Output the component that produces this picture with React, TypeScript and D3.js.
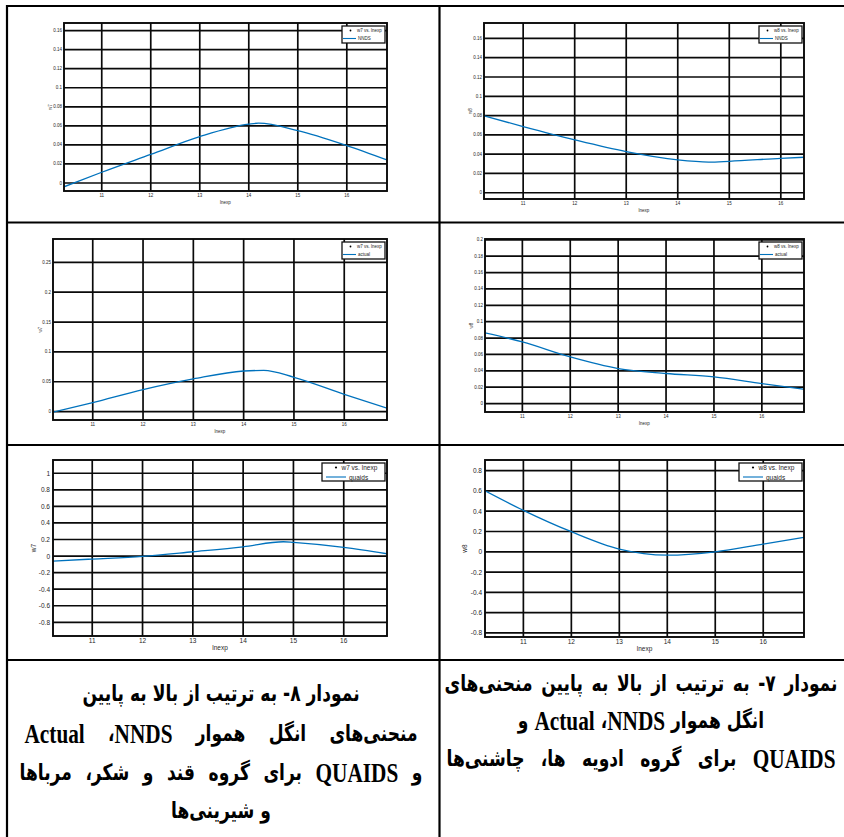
import React, { useEffect, useRef } from 'react';
import * as d3 from 'd3';

// shared x ticks (lnexp)
const xTickValues = [11, 12, 13, 14, 15, 16];

// w7 — NNDS
const lnexpW7Nnds = [10.23, 11, 12, 13, 14, 14.2, 15, 16, 16.82];
const w7Nnds = [-0.004, 0.0113, 0.03, 0.0487, 0.0618, 0.0628, 0.055, 0.0393, 0.0242];
const w7NndsTicks = [0, 0.02, 0.04, 0.06, 0.08, 0.1, 0.12, 0.14, 0.16];

// w8 — NNDS
const lnexpW8Nnds = [10.24, 11, 12, 13, 14, 14.6, 15, 16, 16.45];
const w8Nnds = [0.0797, 0.0686, 0.0548, 0.0426, 0.034, 0.0318, 0.0326, 0.0357, 0.0368];
const w8NndsTicks = [0, 0.02, 0.04, 0.06, 0.08, 0.1, 0.12, 0.14, 0.16];

// w7 — actual
const lnexpW7Actual = [10.21, 11, 12, 13, 14, 14.4, 15, 16, 16.85];
const w7Actual = [-0.001, 0.015, 0.0368, 0.0547, 0.068, 0.069, 0.0575, 0.029, 0.0057];
const w7ActualTicks = [0, 0.05, 0.1, 0.15, 0.2, 0.25];

// w8 — actual
const lnexpW8Actual = [10.22, 11, 12, 13, 14, 15, 16, 16.88];
const w8Actual = [0.0863, 0.0753, 0.057, 0.0428, 0.0367, 0.0325, 0.0244, 0.0175];
const w8ActualTicks = [0, 0.02, 0.04, 0.06, 0.08, 0.1, 0.12, 0.14, 0.16, 0.18, 0.2];

// w7 — quaids
const lnexpW7Quaids = [10.22, 11, 12, 13, 14, 14.8, 15, 16, 16.86];
const w7Quaids = [-0.06, -0.036, -0.004, 0.052, 0.112, 0.173, 0.165, 0.105, 0.028];
const w7QuaidsTicks = [-0.8, -0.6, -0.4, -0.2, 0, 0.2, 0.4, 0.6, 0.8, 1];

// w8 — quaids
const lnexpW8Quaids = [10.2, 11, 12, 13, 14, 15, 16, 16.85];
const w8Quaids = [0.602, 0.409, 0.198, 0.027, -0.033, 0.0, 0.076, 0.142];
const w8QuaidsTicks = [-0.8, -0.6, -0.4, -0.2, 0, 0.2, 0.4, 0.6, 0.8];

// captions (one entry per printed line)
const leftCaption = [
  'نمودار ۸- به ترتیب از بالا به پایین',
  'منحنی‌های انگل هموار NNDS\u200F، Actual',
  'و QUAIDS برای گروه قند و شکر، مرباها',
  'و شیرینی‌ها',
];
const rightCaption = [
  'نمودار ۷- به ترتیب از بالا به پایین منحنی‌های',
  'انگل هموار NNDS\u200F، Actual و',
  'QUAIDS برای گروه ادویه ها، چاشنی‌ها',
];

const BLUE = '#0072BD';
const fmt = (v: number) => String(+v.toFixed(2));
const SX = 0.76; // caption glyphs are narrower than DejaVu, squeeze horizontally

const charts = [
  { id: 'c1', box: [64, 23, 387, 191], xDomain: [10.23, 16.82], yDomain: [-0.0084, 0.168], xs: lnexpW7Nnds, ys: w7Nnds, yTicks: w7NndsTicks, yLabel: 'w7', series: 'NNDS', big: false, yl: 14 },
  { id: 'c2', box: [484, 23, 804, 199], xDomain: [10.24, 16.45], yDomain: [-0.0065, 0.176], xs: lnexpW8Nnds, ys: w8Nnds, yTicks: w8NndsTicks, yLabel: 'w8', series: 'NNDS', big: false, yl: 14 },
  { id: 'c3', box: [53, 239, 387, 420], xDomain: [10.21, 16.85], yDomain: [-0.014, 0.289], xs: lnexpW7Actual, ys: w7Actual, yTicks: w7ActualTicks, yLabel: 'w7', series: 'actual', big: false, yl: 13 },
  { id: 'c4', box: [485, 239, 804, 412], xDomain: [10.22, 16.88], yDomain: [-0.0103, 0.201], xs: lnexpW8Actual, ys: w8Actual, yTicks: w8ActualTicks, yLabel: 'w8', series: 'actual', big: false, yl: 14 },
  { id: 'c5', box: [53, 460, 387, 636], xDomain: [10.22, 16.86], yDomain: [-0.965, 1.16], xs: lnexpW7Quaids, ys: w7Quaids, yTicks: w7QuaidsTicks, yLabel: 'w7', series: 'quaids', big: true, yl: 20 },
  { id: 'c6', box: [485, 460, 804, 637], xDomain: [10.2, 16.85], yDomain: [-0.84, 0.905], xs: lnexpW8Quaids, ys: w8Quaids, yTicks: w8QuaidsTicks, yLabel: 'w8', series: 'quaids', big: true, yl: 21 },
];

function Chart({ spec }: { spec: any }) {
  const [x0, y0, x1, y1] = spec.box;
  const x = d3.scaleLinear().domain(spec.xDomain).range([x0, x1]);
  const y = d3.scaleLinear().domain(spec.yDomain).range([y1, y0]);
  const line = d3.line<number>()
    .x((_, i) => x(spec.xs[i]))
    .y(d => y(d))
    .curve(d3.curveMonotoneX);
  const f = spec.big ? 6.5 : 4.5;
  const lg = spec.big
    ? { w: 63, h: 18, dot: 14, t1: 19.5, l0: 4, l1: 24, t2: 27, r1: 4.5, r2: 14 }
    : { w: 43, h: 17, dot: 8.5, t1: 15, l0: 1, l1: 14, t2: 16, r1: 4.5, r2: 12.5 };
  const lx = x1 - lg.w - 2;
  const ly = y0 + 3;
  const font = "'Liberation Sans', Arial, sans-serif";
  return (
    <g fontFamily={font} fill="#262626">
      <defs>
        <clipPath id={`clip-${spec.id}`}>
          <rect x={x0} y={y0} width={x1 - x0} height={y1 - y0} />
        </clipPath>
      </defs>
      <rect x={x0} y={y0} width={x1 - x0} height={y1 - y0} fill="#fff" />
      {xTickValues.map(t => (
        <line key={`gx${t}`} x1={x(t)} x2={x(t)} y1={y0} y2={y1} stroke="#0a0a0a" strokeWidth={1.7} />
      ))}
      {spec.yTicks.map((t: number) => (
        <line key={`gy${t}`} x1={x0} x2={x1} y1={y(t)} y2={y(t)} stroke="#0a0a0a" strokeWidth={1.7} />
      ))}
      <path d={line(spec.ys) || ''} fill="none" stroke={BLUE} strokeWidth={1.3} clipPath={`url(#clip-${spec.id})`} />
      <rect x={x0} y={y0} width={x1 - x0} height={y1 - y0} fill="none" stroke="#0a0a0a" strokeWidth={1.9} />
      {xTickValues.map(t => (
        <text key={`tx${t}`} x={x(t)} y={y1 + 4} fontSize={f} textAnchor="middle" dominantBaseline="central">{t}</text>
      ))}
      {spec.yTicks.map((t: number) => (
        <text key={`ty${t}`} x={x0 - (spec.big ? 3 : 2)} y={y(t)} fontSize={f} textAnchor="end" dominantBaseline="central">{fmt(t)}</text>
      ))}
      <text x={(x0 + x1) / 2} y={y1 + 11} fontSize={f} textAnchor="middle" dominantBaseline="central">lnexp</text>
      <text transform={`translate(${x0 - spec.yl},${(y0 + y1) / 2}) rotate(-90)`} fontSize={f} textAnchor="middle" dominantBaseline="central">{spec.yLabel}</text>
      <g transform={`translate(${lx},${ly})`}>
        <rect width={lg.w} height={lg.h} fill="#fff" stroke="#111" strokeWidth={1.3} />
        <circle cx={lg.dot} cy={lg.r1} r={spec.big ? 1.1 : 0.9} fill="#000" />
        <text x={lg.t1} y={lg.r1} fontSize={f} dominantBaseline="central">{`${spec.yLabel} vs. lnexp`}</text>
        <line x1={lg.l0} x2={lg.l1} y1={lg.r2} y2={lg.r2} stroke={BLUE} strokeWidth={1.1} />
        <text x={lg.t2} y={lg.r2} fontSize={f} dominantBaseline="central">{spec.series}</text>
      </g>
    </g>
  );
}

// Persian runs in DejaVu Sans, latin words in a Times-like serif
function CaptionLine({ text, x, y, width }: { text: string; x: number; y: number; width: number }) {
  const parts = text.split(/([A-Za-z]+)/).filter(p => p !== '');
  return (
    <text transform={`translate(${x},${y}) scale(${SX},1)`} direction="rtl" textAnchor="middle" dominantBaseline="central" data-width={width / SX}>
      {parts.map((p, i) =>
        /^[A-Za-z]+$/.test(p)
          ? <tspan key={i} fontFamily="'Liberation Serif', 'Times New Roman', serif" fontSize={28}>{p}</tspan>
          : <tspan key={i}>{p}</tspan>
      )}
    </text>
  );
}

export default function App() {
  const capRef = useRef<SVGGElement>(null);

  useEffect(() => {
    // justified lines: stretch by word spacing
    d3.select(capRef.current).selectAll<SVGTextElement, unknown>('text').each(function () {
      const target = +(this.getAttribute('data-width') || 0);
      if (!target) return;
      this.setAttribute('word-spacing', '0');
      const w = this.getComputedTextLength();
      const gaps = ((this.textContent || '').match(/ /g) || []).length;
      if (gaps) this.setAttribute('word-spacing', String((target - w) / gaps));
    });
  }, []);

  const leftY = [693, 733, 772, 810];
  const leftW = [0, 393, 403, 0];
  const rightY = [683, 720, 758];
  const rightW = [393, 0, 389];

  return (
    <svg width={844} height={837} style={{ position: 'absolute', left: 0, top: 0, background: '#fff' }}>
      <rect width={844} height={837} fill="#fff" />
      {charts.map(c => <Chart key={c.id} spec={c} />)}
      {/* table borders */}
      <g stroke="#000" strokeWidth={2.2}>
        <line x1={6} x2={844} y1={6} y2={6} />
        <line x1={6} x2={844} y1={222.5} y2={222.5} />
        <line x1={6} x2={844} y1={445} y2={445} />
        <line x1={6} x2={844} y1={660} y2={660} />
        <line x1={7} x2={7} y1={5} y2={837} />
        <line x1={439.5} x2={439.5} y1={5} y2={837} />
      </g>
      <g ref={capRef} fontFamily="'DejaVu Sans', sans-serif" fontWeight="bold" fontSize={22.5} fill="#000">
        {leftCaption.map((s, i) => (
          <CaptionLine key={`l${i}`} text={s} x={221} y={leftY[i]} width={leftW[i]} />
        ))}
        {rightCaption.map((s, i) => (
          <CaptionLine key={`r${i}`} text={s} x={641} y={rightY[i]} width={rightW[i]} />
        ))}
      </g>
    </svg>
  );
}
